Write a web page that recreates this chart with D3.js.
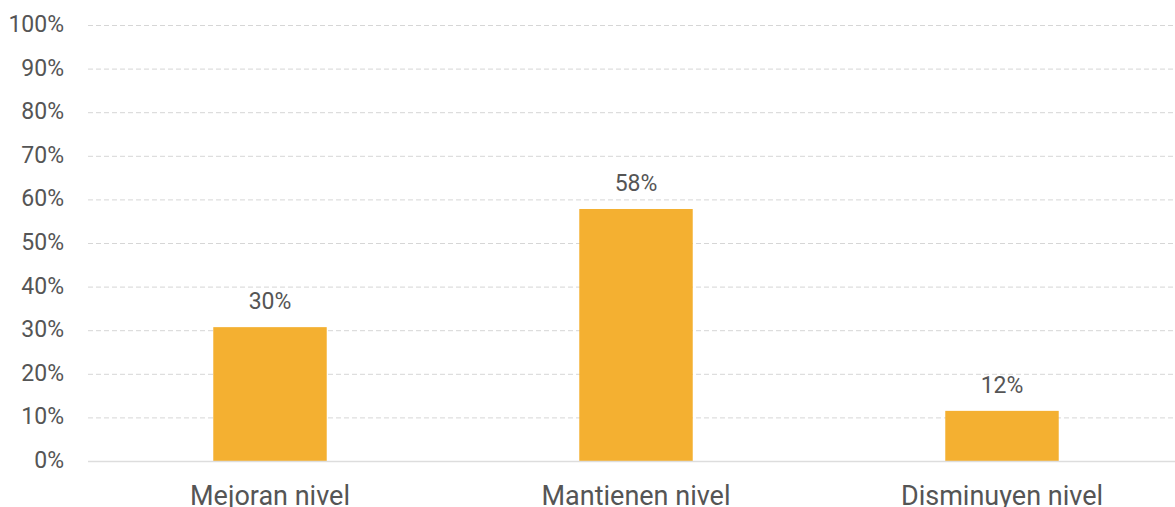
<!DOCTYPE html>
<html>
<head>
<meta charset="utf-8">
<script src="https://cdn.jsdelivr.net/npm/d3@7"></script>
<style>
  body { margin: 0; background: #fff; overflow: hidden; }
  text { font-family: Roboto, "Noto Sans", sans-serif; }
</style>
</head>
<body>
<script>
// data
let categories = ['Mejoran nivel', 'Mantienen nivel', 'Disminuyen nivel'];
let values = [30.7, 57.8, 11.5];
let valueLabels = ['30%', '58%', '12%'];
let yTicks = [0, 10, 20, 30, 40, 50, 60, 70, 80, 90, 100];

let width = 1175, height = 507;
let margin = {top: 25, right: 0, bottom: 46, left: 88};

let svg = d3.select('body').append('svg')
    .attr('width', width)
    .attr('height', height)
    .style('display', 'block');

let x = d3.scaleBand()
    .domain(categories)
    .range([margin.left - 1, 1185])
    .paddingInner(0.69)
    .paddingOuter(0.345);

let y = d3.scaleLinear()
    .domain([0, 100])
    .range([height - margin.bottom, margin.top]);

// grid
svg.append('g').selectAll('line')
    .data(yTicks.filter(d => d > 0))
    .enter().append('line')
    .attr('x1', margin.left)
    .attr('x2', width)
    .attr('y1', d => y(d) + 0.5)
    .attr('y2', d => y(d) + 0.5)
    .attr('stroke', '#d6d6d6')
    .attr('stroke-dasharray', '5,3');

// y labels
svg.append('g').selectAll('text')
    .data(yTicks)
    .enter().append('text')
    .attr('x', 64)
    .attr('y', d => y(d))
    .attr('dy', '0.3em')
    .attr('text-anchor', 'end')
    .attr('fill', '#555')
    .style('font-size', '23px')
    .text(d => d + '%');

// bars
svg.append('g').selectAll('rect')
    .data(values)
    .enter().append('rect')
    .attr('x', (d, i) => x(categories[i]))
    .attr('width', x.bandwidth())
    .attr('y', d => y(d))
    .attr('height', d => y(0) - y(d))
    .attr('fill', '#f4b031');

// baseline
svg.append('line')
    .attr('x1', margin.left)
    .attr('x2', width)
    .attr('y1', y(0) + 0.5)
    .attr('y2', y(0) + 0.5)
    .attr('stroke', '#dddddd')
    .attr('stroke-width', 1.5);

// value labels
svg.append('g').selectAll('text')
    .data(values)
    .enter().append('text')
    .attr('x', (d, i) => x(categories[i]) + x.bandwidth() / 2)
    .attr('y', d => y(d) - 18)
    .attr('text-anchor', 'middle')
    .attr('fill', '#555')
    .style('font-size', '23px')
    .text((d, i) => valueLabels[i]);

// category labels (cut at the bottom edge, as in the original)
svg.append('g').selectAll('text')
    .data(categories)
    .enter().append('text')
    .attr('x', d => x(d) + x.bandwidth() / 2)
    .attr('y', y(0) + 44)
    .attr('text-anchor', 'middle')
    .attr('fill', '#555')
    .style('font-size', '27px')
    .text(d => d);
</script>
</body>
</html>
